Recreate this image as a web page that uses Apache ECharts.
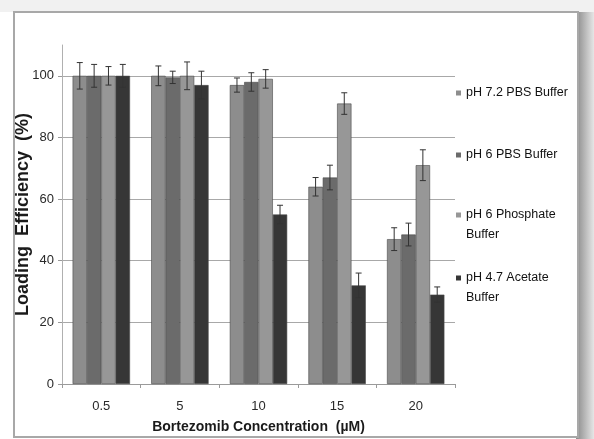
<!DOCTYPE html>
<html>
<head>
<meta charset="utf-8">
<script src="https://cdn.jsdelivr.net/npm/echarts@6/dist/echarts.min.js"></script>
<style>
  html, body { margin: 0; padding: 0; background: #fff; }
  #main { width: 594px; height: 439px; }
</style>
</head>
<body>
<div id="main"></div>
<script>
// concentration groups
var categories = ['0.5', '5', '10', '15', '20'];
var seriesNames = ['pH 7.2 PBS Buffer', 'pH 6 PBS Buffer', 'pH 6 Phosphate Buffer', 'pH 4.7 Acetate Buffer'];
// loading efficiency (%)
var ph72Pbs = [100, 100, 97, 64, 47];
var ph6Pbs = [100, 99.5, 98, 67, 48.5];
var ph6Phos = [100, 100, 99, 91, 71];
var ph47Acet = [100, 97, 55, 32, 29];
// error bar half-heights
var ph72PbsErr = [4.3, 3.2, 2.3, 3, 3.7];
var ph6PbsErr = [3.7, 2, 3, 4, 3.7];
var ph6PhosErr = [3, 4.5, 3, 3.5, 5];
var ph47AcetErr = [3.7, 4.5, 3, 4, 2.5];
var yTicks = [0, 20, 40, 60, 80, 100];

var values = [ph72Pbs, ph6Pbs, ph6Phos, ph47Acet];
var errs = [ph72PbsErr, ph6PbsErr, ph6PhosErr, ph47AcetErr];
var colors = ['#8d8d8d', '#6b6b6b', '#979797', '#363636'];
var legendText = {
  'pH 7.2 PBS Buffer': 'pH 7.2 PBS Buffer',
  'pH 6 PBS Buffer': 'pH 6 PBS Buffer',
  'pH 6 Phosphate Buffer': '\npH 6 Phosphate\nBuffer',
  'pH 4.7 Acetate Buffer': '\npH 4.7 Acetate\nBuffer'
};
var legendTop = [83, 145, 185, 248];
var font = '"Liberation Sans", Arial, sans-serif';
var gapPct = 0.27;

var myChart = echarts.init(document.getElementById('main'));

var series = [];
for (var i = 0; i < values.length; i++) {
  series.push({
    name: seriesNames[i],
    type: 'bar',
    data: values[i],
    barGap: 0,
    barCategoryGap: '27%',
    itemStyle: { color: colors[i], borderColor: '#4a4a4a', borderWidth: 0.6 },
    z: 2
  });
}
// error bars
for (var i = 0; i < values.length; i++) {
  var d = [];
  for (var j = 0; j < categories.length; j++) {
    d.push([j, values[i][j], errs[i][j]]);
  }
  (function (idx) {
    series.push({
      type: 'custom',
      data: d,
      z: 5,
      encode: { x: 0, y: 1 },
      renderItem: function (params, api) {
        var c = api.coord([api.value(0), api.value(1)]);
        var band = api.size([1, 0])[0];
        var bw = band * (1 - gapPct) / 4;
        var x = c[0] + (idx - 1.5) * bw;
        var v = api.value(1), e = api.value(2);
        var yt = api.coord([api.value(0), v + e])[1];
        var yb = api.coord([api.value(0), v - e])[1];
        var st = { stroke: '#333', lineWidth: 1 };
        return {
          type: 'group',
          children: [
            { type: 'line', shape: { x1: x, y1: yt, x2: x, y2: yb }, style: st },
            { type: 'line', shape: { x1: x - 3, y1: yt, x2: x + 3, y2: yt }, style: st },
            { type: 'line', shape: { x1: x - 3, y1: yb, x2: x + 3, y2: yb }, style: st }
          ]
        };
      }
    });
  })(i);
}

var legends = [];
for (var i = 0; i < seriesNames.length; i++) {
  legends.push({
    data: [seriesNames[i]],
    left: 456,
    top: legendTop[i],
    padding: 0,
    itemWidth: 5,
    itemHeight: 5,
    icon: 'rect',
    itemStyle: { borderWidth: 0 },
    formatter: function (name) { return legendText[name]; },
    textStyle: { fontFamily: font, fontSize: 12.5, color: '#111', lineHeight: 20 }
  });
}

myChart.setOption({
  backgroundColor: '#fff',
  animation: false,
  graphic: [
    { type: 'rect', shape: { x: 0, y: 0, width: 594, height: 12 }, style: { fill: '#f1f1f1' }, z: -10 },
    { type: 'rect', shape: { x: 576, y: 12, width: 18, height: 427 },
      style: { fill: new echarts.graphic.LinearGradient(0, 0, 1, 0, [
        { offset: 0, color: '#8a8a8a' }, { offset: 1, color: '#e6e6e6' }]) }, z: -10 },
    { type: 'rect', shape: { x: 14, y: 12, width: 564, height: 425 },
      style: { fill: '#fff', stroke: '#a8a8a8', lineWidth: 2 }, z: -9 }
  ],
  legend: legends,
  grid: { left: 62, right: 139, top: 45, bottom: 55, outerBoundsMode: 'none' },
  xAxis: {
    type: 'category',
    data: categories,
    name: 'Bortezomib Concentration  (µM)',
    nameLocation: 'middle',
    nameGap: 36,
    nameMoveOverlap: false,
    nameTextStyle: { fontFamily: font, fontSize: 14, fontWeight: 'bold', color: '#1a1a1a' },
    axisLine: { lineStyle: { color: '#9a9a9a', width: 1 } },
    axisTick: { show: true, length: 4, lineStyle: { color: '#9a9a9a' } },
    axisLabel: { fontFamily: font, fontSize: 13, color: '#2a2a2a', margin: 16 }
  },
  yAxis: {
    type: 'value',
    min: 0,
    max: 110,
    interval: 20,
    name: 'Loading  Efficiency  (%)',
    nameLocation: 'middle',
    nameGap: 30,
    nameMoveOverlap: false,
    nameTextStyle: { fontFamily: font, fontSize: 18, fontWeight: 'bold', color: '#1a1a1a' },
    axisLine: { show: true, lineStyle: { color: '#b0b0b0', width: 1 } },
    axisTick: { show: true, length: 4, inside: false, lineStyle: { color: '#9a9a9a' } },
    axisLabel: {
      fontFamily: font, fontSize: 13, color: '#2a2a2a', margin: 8, showMaxLabel: false,
      formatter: function (v) { return yTicks.indexOf(v) >= 0 ? String(v) : ''; }
    },
    splitLine: { show: true, showMaxLine: false, lineStyle: { color: '#a8a8a8', width: 1 } }
  },
  series: series
});
</script>
</body>
</html>
